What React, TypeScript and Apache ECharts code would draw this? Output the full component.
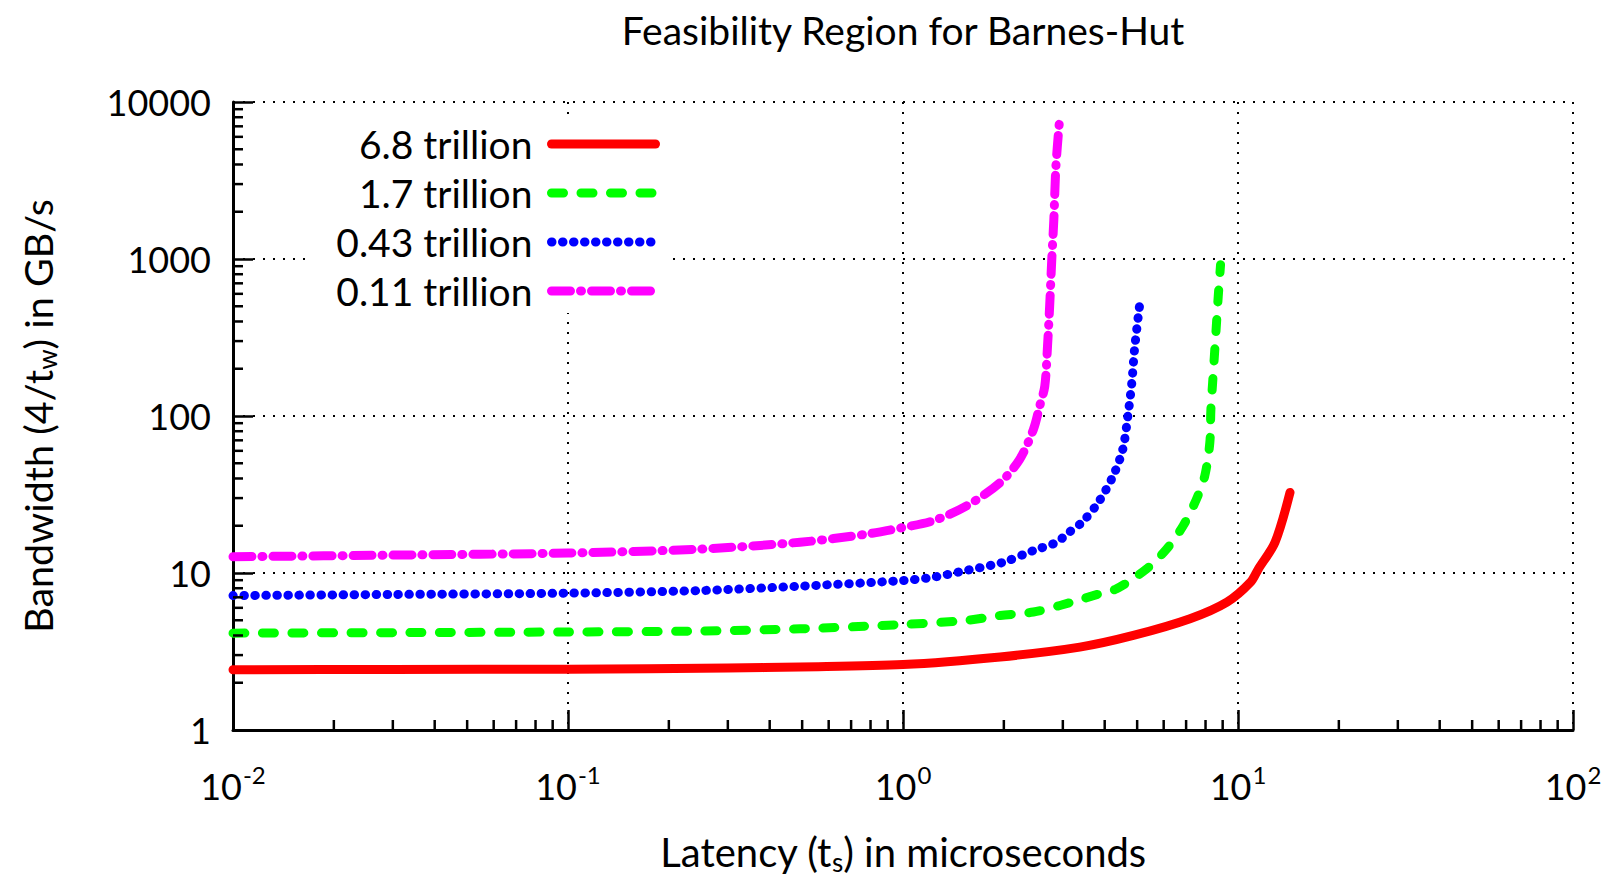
import React, { useEffect, useRef } from "react";
import * as echarts from "echarts";

// ---- data ----
const seriesNames = ["6.8 trillion", "1.7 trillion", "0.43 trillion", "0.11 trillion"];

const redX = [0.01, 0.03, 0.1, 0.3, 0.493, 1.0, 1.95, 3.37, 4.87, 7.19, 9.27, 10.9, 11.5, 12.9, 14.3];
const redY = [2.42, 2.43, 2.44, 2.48, 2.52, 2.61, 2.92, 3.37, 4.0, 5.11, 6.52, 8.74, 10.6, 15.7, 32.6];

const greenX = [0.01, 0.03, 0.1, 0.248, 0.493, 1.0, 1.55, 1.95, 2.45, 2.94, 3.86, 4.34, 5.33, 6.12, 6.86, 7.52, 7.96, 8.24, 8.3, 8.4, 8.59, 8.73, 8.87];
const greenY = [4.14, 4.17, 4.21, 4.27, 4.41, 4.7, 4.99, 5.36, 5.64, 6.21, 7.37, 7.93, 10.6, 14.2, 20.0, 29.6, 41.6, 67.8, 110, 163, 339, 578, 920];

const blueX = [0.01, 0.03, 0.1, 0.248, 0.493, 1.0, 1.23, 1.55, 1.99, 2.45, 2.88, 3.08, 3.42, 3.83, 4.24, 4.53, 4.69, 4.82, 4.91, 5.08];
const blueY = [7.18, 7.3, 7.44, 7.73, 8.24, 8.95, 9.4, 10.4, 11.7, 13.9, 15.7, 17.7, 21.0, 28.2, 41.6, 61.4, 100, 163, 265, 500];

const magX = [0.01, 0.03, 0.1, 0.248, 0.493, 0.78, 1.0, 1.23, 1.55, 1.95, 2.23, 2.45, 2.56, 2.65, 2.7, 2.74, 2.78, 2.82, 2.86, 2.93];
const magY = [12.7, 13.0, 13.4, 14.2, 15.7, 17.7, 19.5, 21.5, 26.8, 37.7, 53, 82, 116, 155, 278, 500, 990, 1780, 3870, 7480];

const xMin = 0.01;
const xMax = 100;
const yMin = 1;
const yMax = 10000;
const minorMultipliers = [2, 3, 4, 5, 6, 7, 8, 9];
const xDecades = [0.01, 0.1, 1, 10];
const yDecades = [1, 10, 100, 1000];

const FONT = "Lato";

const zip = (xs: number[], ys: number[]) => xs.map((x, i) => [x, ys[i]]);

export default function App() {
  const ref = useRef<HTMLDivElement>(null);

  useEffect(() => {
    if (!ref.current) return;
    const chart = echarts.init(ref.current, undefined, { renderer: "svg" });

    const xMinor: number[][] = [];
    xDecades.forEach((d) => minorMultipliers.forEach((m) => xMinor.push([d * m, yMin])));
    const yMinor: number[][] = [];
    yDecades.forEach((d) => minorMultipliers.forEach((m) => yMinor.push([xMin, d * m])));

    const lineBase = (name: string, data: number[][], color: string, type: any, cap: any) => ({
      name,
      type: "line",
      data,
      symbol: "none",
      showSymbol: false,
      smooth: 0.3,
      clip: true,
      z: 5,
      lineStyle: { color, width: 9, type, cap, join: "round" },
      itemStyle: { color },
    });

    const tickSeries = (data: number[][], vertical: boolean) => ({
      type: "custom",
      silent: true,
      z: 10,
      clip: false,
      data,
      renderItem: (params: any, api: any) => {
        const p = api.coord([api.value(0), api.value(1)]);
        return {
          type: "line",
          shape: vertical
            ? { x1: p[0], y1: p[1], x2: p[0], y2: p[1] - 10 }
            : { x1: p[0], y1: p[1], x2: p[0] + 10, y2: p[1] },
          style: { stroke: "#000", lineWidth: 2.5 },
        };
      },
    });

    const supLabel = {
      fontFamily: FONT,
      color: "#000",
      margin: 30,
      formatter: (v: number) => `{b|10}{s|${Math.round(Math.log10(v))}}`,
      rich: {
        b: { fontFamily: FONT, fontSize: 36, color: "#000", lineHeight: 44, verticalAlign: "bottom" },
        s: { fontFamily: FONT, fontSize: 24, color: "#000", lineHeight: 44, verticalAlign: "top", padding: [2, 0, 0, 1] },
      },
    };

    const option: any = {
      animation: false,
      backgroundColor: "#fff",
      textStyle: { fontFamily: FONT },
      grid: { left: 233, right: 37, top: 102, bottom: 148.5, containLabel: false },
      legend: {
        orient: "vertical",
        align: "right",
        right: 937,
        top: 122,
        padding: [2, 13, 2, 30],
        backgroundColor: "#fff",
        itemWidth: 104,
        itemHeight: 14,
        itemGap: 9,
        selectedMode: false,
        z: 20,
        textStyle: { fontFamily: FONT, fontSize: 39, color: "#000", lineHeight: 40, padding: [0, 14, 0, 0] },
        data: seriesNames.map((n) => ({ name: n })),
        lineStyle: { width: 9 },
        itemStyle: { opacity: 0, borderWidth: 0 },
      },
      xAxis: {
        type: "log",
        logBase: 10,
        min: xMin,
        max: xMax,
        axisLine: { show: true, lineStyle: { color: "#000", width: 3 } },
        axisTick: { show: true, inside: true, length: 20, lineStyle: { color: "#000", width: 2.5 } },
        splitLine: { show: true, lineStyle: { color: "#000", width: 2, type: [2, 8] } },
        axisLabel: supLabel,
        name: "Latency (t{sub|s}) in microseconds",
        nameLocation: "middle",
        nameGap: 99,
        nameTextStyle: {
          fontFamily: FONT,
          fontSize: 40,
          color: "#000",
          lineHeight: 46,
          rich: { sub: { fontFamily: FONT, fontSize: 26, color: "#000", lineHeight: 46, verticalAlign: "bottom" } },
        },
      },
      yAxis: {
        type: "log",
        logBase: 10,
        min: yMin,
        max: yMax,
        axisLine: { show: true, lineStyle: { color: "#000", width: 3 } },
        axisTick: { show: true, inside: true, length: 20, lineStyle: { color: "#000", width: 2.5 } },
        splitLine: { show: true, lineStyle: { color: "#000", width: 2, type: [2, 8] } },
        axisLabel: {
          fontFamily: FONT,
          fontSize: 36,
          color: "#000",
          margin: 22,
          formatter: (v: number) => String(Math.round(v)),
        },
        name: "Bandwidth (4/t{sub|w}) in GB/s",
        nameLocation: "middle",
        nameGap: 173,
        nameTextStyle: {
          fontFamily: FONT,
          fontSize: 39.5,
          color: "#000",
          lineHeight: 46,
          rich: { sub: { fontFamily: FONT, fontSize: 26, color: "#000", lineHeight: 46, verticalAlign: "bottom" } },
        },
      },
      graphic: [
        {
          type: "text",
          x: 903,
          y: 30,
          style: {
            text: "Feasibility Region for Barnes-Hut",
            fontFamily: FONT,
            fontSize: 39,
            fill: "#000",
            align: "center",
            verticalAlign: "middle",
          },
        },
      ],
      series: [
        lineBase(seriesNames[0], zip(redX, redY), "#ff0000", "solid", "round"),
        lineBase(seriesNames[1], zip(greenX, greenY), "#00ff00", [12, 17.5], "round"),
        lineBase(seriesNames[2], zip(blueX, blueY), "#0000ff", [0.5, 10.5], "round"),
        lineBase(seriesNames[3], zip(magX, magY), "#ff00ff", [19, 10, 1, 10], "round"),
        tickSeries(xMinor, true),
        tickSeries(yMinor, false),
      ],
    };

    chart.setOption(option);
    return () => chart.dispose();
  }, []);

  return (
    <div
      ref={ref}
      style={{ position: "fixed", left: 0, top: 0, width: 1610, height: 880, background: "#fff" }}
    />
  );
}
